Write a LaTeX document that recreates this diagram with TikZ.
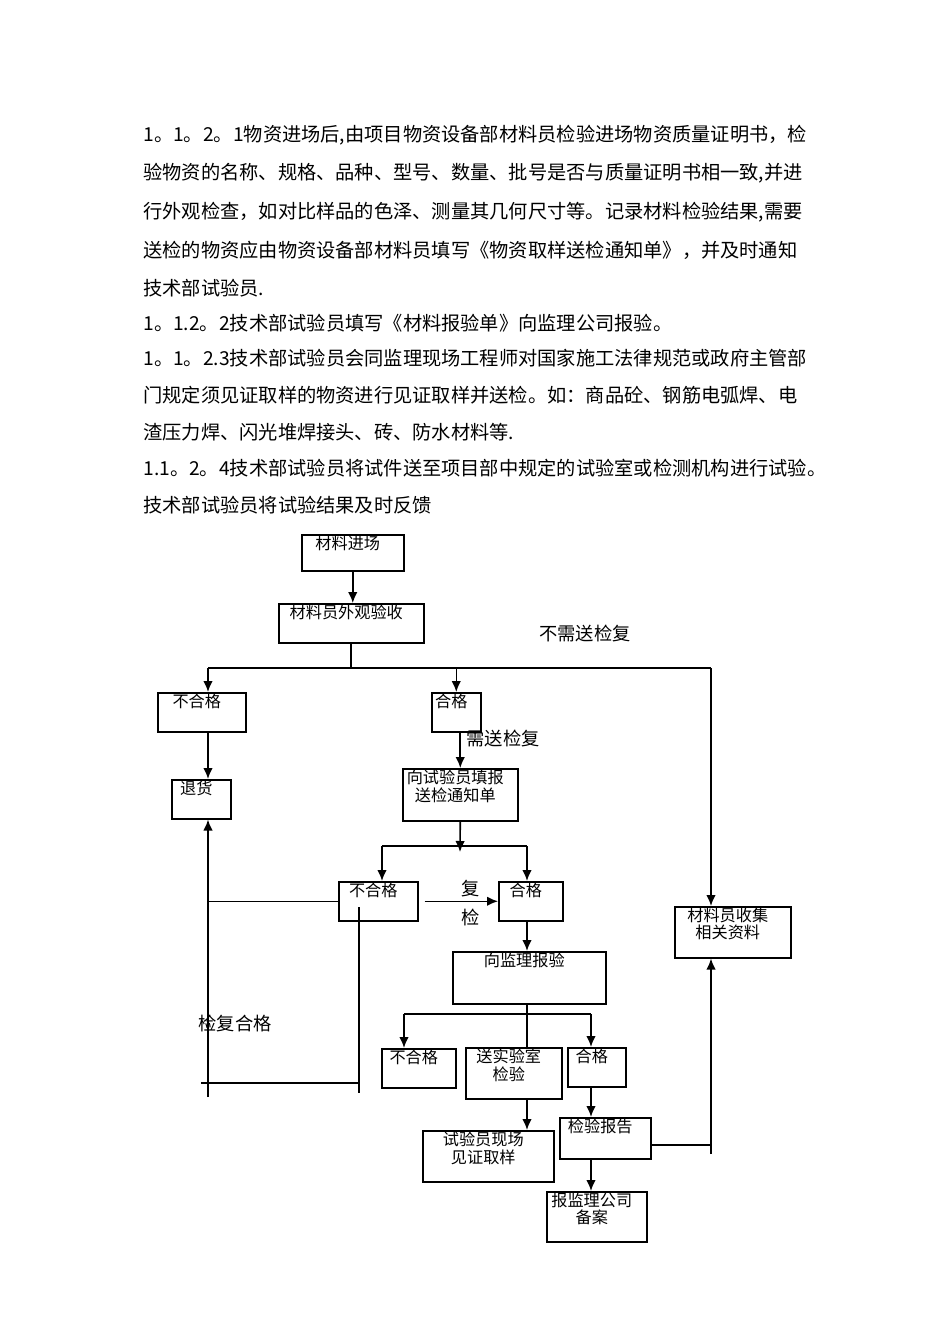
\documentclass[tikz,border=0pt]{standalone}
\usepackage{fontspec}
\setmainfont{Noto Sans CJK SC}
\usetikzlibrary{arrows.meta,positioning}
\newcommand{\parafont}{\fontsize{10.95}{13}\selectfont}
\newcommand{\flowfont}{\fontsize{9.2}{9.8}\selectfont}
\newcommand{\tagfont}{\fontsize{10.4}{11}\selectfont}
\tikzset{box/.style={rectangle,draw,line width=0.9pt,anchor=north west,inner sep=0pt},
         box text/.style={anchor=north,inner sep=1pt,xshift=-0.1cm,align=center,font=\flowfont},
         line/.style={line width=0.9pt},
         para/.style={anchor=west,inner sep=0pt,font=\parafont},
         tag/.style={inner sep=0pt,font=\tagfont},
}

\begin{document}
\begin{tikzpicture}[>={Latex[length=2.2mm,width=1.9mm]}, x=0.02cm, y=-0.02cm]

\useasboundingbox (0,0) rectangle (950,1344);

% text above the chart
\node[para] (p1) at (143,135) {1。1。2。1物资进场后,由项目物资设备部材料员检验进场物资质量证明书，检};
\node[para] (p2) at (143,173) {验物资的名称、规格、品种、型号、数量、批号是否与质量证明书相一致,并进};
\node[para] (p3) at (143,212) {行外观检查，如对比样品的色泽、测量其几何尺寸等。记录材料检验结果,需要};
\node[para] (p4) at (143,250) {送检的物资应由物资设备部材料员填写《物资取样送检通知单》，并及时通知};
\node[para] (p5) at (143,288) {技术部试验员.};
\node[para] (p6) at (143,323) {1。1.2。2技术部试验员填写《材料报验单》向监理公司报验。};
\node[para] (p7) at (143,358) {1。1。2.3技术部试验员会同监理现场工程师对国家施工法律规范或政府主管部};
\node[para] (p8) at (143,395) {门规定须见证取样的物资进行见证取样并送检。如：商品砼、钢筋电弧焊、电};
\node[para] (p9) at (143,432) {渣压力焊、闪光堆焊接头、砖、防水材料等.};
\node[para] (p10) at (143,468) {1.1。2。4技术部试验员将试件送至项目部中规定的试验室或检测机构进行试验。};
\node[para] (p11) at (143,505) {技术部试验员将试验结果及时反馈};

% boxes
\node[box,minimum width=2.04cm,minimum height=0.72cm,label={[box text]north:材料进场}] (jinchang) at (301,534) {};
\node[box,minimum width=2.90cm,minimum height=0.78cm,label={[box text]north:材料员外观验收}] (waiguan) at (278,603) {};
\node[box,minimum width=1.76cm,minimum height=0.78cm,label={[box text]north:不合格}] (buhege1) at (157,692) {};
\node[box,minimum width=0.98cm,minimum height=0.78cm,label={[box text]north:合格}] (hege1) at (431,692) {};
\node[box,minimum width=1.18cm,minimum height=0.78cm,label={[box text]north:退货}] (tuihuo) at (171,779) {};
\node[box,minimum width=2.30cm,minimum height=1.04cm,label={[box text]north:{向试验员填报\\送检通知单}}] (tianbao) at (402,768) {};
\node[box,minimum width=1.58cm,minimum height=0.78cm,label={[box text]north:不合格}] (buhege2) at (338,881) {};
\node[box,minimum width=1.28cm,minimum height=0.78cm,label={[box text]north:合格}] (hege2) at (498,881) {};
\node[box,minimum width=3.06cm,minimum height=1.04cm,label={[box text]north:向监理报验}] (baoyan) at (452,951) {};
\node[box,minimum width=2.32cm,minimum height=1.02cm,label={[box text]north:{材料员收集\\相关资料}}] (shouji) at (674,906) {};
\node[box,minimum width=1.48cm,minimum height=0.78cm,label={[box text]north:不合格}] (buhege3) at (381,1048) {};
\node[box,minimum width=1.92cm,minimum height=1.02cm,label={[box text]north:{送实验室\\检验}}] (songshi) at (465,1047) {};
\node[box,minimum width=1.16cm,minimum height=0.78cm,label={[box text]north:合格}] (hege3) at (567,1047) {};
\node[box,minimum width=2.62cm,minimum height=1.02cm,label={[box text]north:{试验员现场\\见证取样}}] (jianzheng) at (422,1130) {};
\node[box,minimum width=1.82cm,minimum height=0.82cm,label={[box text]north:检验报告}] (baogao) at (559,1117) {};
\node[box,minimum width=2.00cm,minimum height=1.00cm,label={[box text]north:{报监理公司\\备案}}] (beian) at (546,1191) {};

% labels
\node[tag] (buxu) at (585,633) {不需送检复};
\node[tag] (xu) at (503,738) {需送检复};
\node[tag] (fu) at (471,889) {复};
\node[tag] (jian) at (471,917) {检};
\node[tag] (fujian) at (235,1023) {检复合格};

% bus points
\coordinate (l1) at (208,668);
\coordinate (r1) at (711,668);
\coordinate (m2) at (460,852);
\coordinate (l2) at (382,846);
\coordinate (r2) at (527,846);
\coordinate (l3) at (404,1014);
\coordinate (r3) at (591,1014);
\coordinate (b1) at (208,1097);
\coordinate (t2) at (359,907);
\coordinate (b2) at (359,1093);
\coordinate (h1) at (201,1083);
\coordinate (h2) at (359,1083);
\coordinate (k1) at (711,1145);
\coordinate (b3) at (711,1154);

% connectors
\draw[line,->] (jinchang.south) -- (jinchang.south |- waiguan.north);
\draw[line] (waiguan.south) -- (waiguan.south |- l1);
\draw[line] (l1) -- (r1);
\draw[line,->] (l1) -- (l1 |- buhege1.north);
\draw[line,->] (hege1.north |- l1) -- (hege1.north);
\draw[line,->] (r1) -- (r1 |- shouji.north);
\draw[line,->] (l1 |- buhege1.south) -- (l1 |- tuihuo.north);
\draw[line,->] (tianbao.north |- hege1.south) -- (tianbao.north);
\draw[line,->] (tianbao.south) -- (m2);
\draw[line] (l2) -- (r2);
\draw[line,->] (l2) -- (l2 |- buhege2.north);
\draw[line,->] (r2) -- (r2 |- hege2.north);
\draw[line,->] ([xshift=0.12cm]buhege2.east) -- (hege2.west);
\draw[line] (buhege2.west) -- (buhege2.west -| l1);
\draw[line,->] (b1) -- (b1 |- tuihuo.south);
\draw[line] (t2) -- (b2);
\draw[line] (h1) -- (h2);
\draw[line,->] (r2 |- hege2.south) -- (r2 |- baoyan.north);
\draw[line] (r2 |- baoyan.south) -- (r2 |- songshi.north);
\draw[line] (l3) -- (r3);
\draw[line,->] (l3) -- (l3 |- buhege3.north);
\draw[line,->] (r3) -- (r3 |- hege3.north);
\draw[line,->] (r2 |- songshi.south) -- (r2 |- jianzheng.north);
\draw[line,->] (r3 |- hege3.south) -- (r3 |- baogao.north);
\draw[line,->] (r3 |- baogao.south) -- (r3 |- beian.north);
\draw[line] (baogao.east |- k1) -- (k1);
\draw[line,->] (b3) -- (b3 |- shouji.south);

\end{tikzpicture}
\end{document}
